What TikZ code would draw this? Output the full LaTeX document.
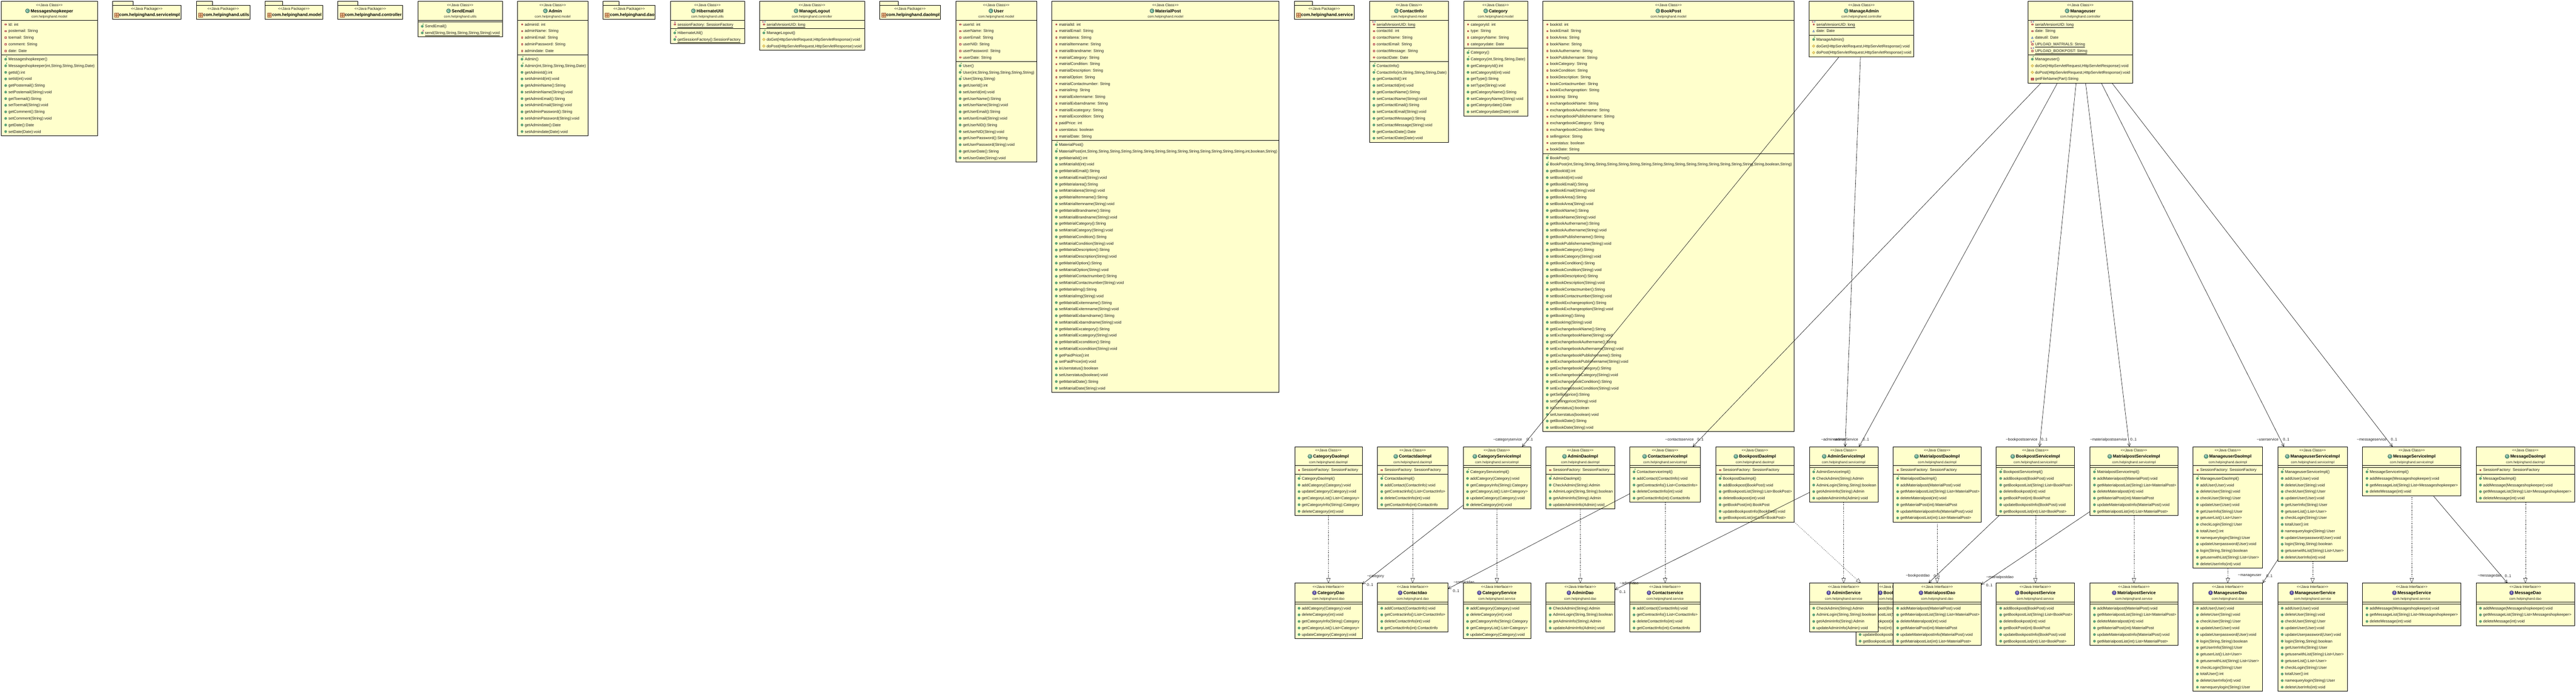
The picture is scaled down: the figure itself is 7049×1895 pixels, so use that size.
\documentclass[tikz,border=0pt]{standalone}
\usepackage{fontspec}
\usetikzlibrary{arrows.meta}
\newfontfamily\umlf{Liberation Sans}
\definecolor{boxfill}{HTML}{FFFFCC}
\definecolor{iconC}{HTML}{4F9C7C}
\definecolor{iconI}{HTML}{5B4FA6}
\definecolor{mgreen}{HTML}{5FA97F}
\definecolor{mgreend}{HTML}{3B8058}
\definecolor{privR}{HTML}{B03A3A}
\definecolor{privF}{HTML}{F4E8D8}
\definecolor{pkgB}{HTML}{3A5FA8}
\definecolor{protF}{HTML}{F0D878}
\definecolor{protD}{HTML}{B89A30}
\definecolor{statS}{HTML}{A0207F}
\definecolor{finF}{HTML}{2A5FC0}
\definecolor{ctorC}{HTML}{1E8A3C}
\definecolor{pkgI}{HTML}{E8B888}
\definecolor{pkgD}{HTML}{A0603A}
\tikzset{
  klbox/.style={draw=black,fill=boxfill,line width=1pt,rectangle,inner sep=0pt,outer sep=0pt},
  divider/.style={draw=black,line width=1pt},
  rowtext/.style={inner sep=0pt,outer sep=0pt,anchor=base west,font=\umlf\fontsize{10.7}{12}\selectfont,text=black!88},
  stereotext/.style={inner sep=0pt,outer sep=0pt,anchor=base,font=\umlf\fontsize{10}{12}\selectfont,text=black!88},
  titletext/.style={inner sep=0pt,outer sep=0pt,anchor=base,font=\umlf\bfseries\fontsize{11.8}{13}\selectfont,text=black},
  pkgtext/.style={inner sep=0pt,outer sep=0pt,anchor=base,font=\umlf\fontsize{9.2}{11}\selectfont,text=black!85},
  pkgname/.style={inner sep=0pt,outer sep=0pt,anchor=base west,font=\umlf\bfseries\fontsize{11.8}{13}\selectfont,text=black},
  klicon/.style={circle,inner sep=0pt,outer sep=0pt,minimum size=12pt,draw=black!55,line width=.5pt,text=white,font=\umlf\bfseries\fontsize{8.5}{9}\selectfont},
  iconletter/.style={inner sep=0pt,outer sep=0pt,font=\umlf\bfseries\fontsize{6.6}{7}\selectfont},
  lbltext/.style={inner sep=0pt,outer sep=0pt,font=\umlf\fontsize{10.4}{12}\selectfont,text=black!88},
  assoc/.style={draw=black,line width=.8pt,-{Straight Barb[length=8pt,width=8pt]}},
  realize/.style={draw=black,line width=.6pt,dash pattern=on 2pt off 3pt,-{Triangle[open,length=13.5pt,width=10.5pt,fill=white]}},
}
\newcounter{rowid}
\newcommand\stereoC{<<Java Class>>}
\newcommand\stereoI{<<Java Interface>>}
% id x1 x2 ytop nattr nmeth kind title package
\newcommand\kl[9]{%
  \pgfmathsetmacro\kW{#3-#2}%
  \pgfmathsetmacro\kH{61.7+18*(#5+#6)}%
  \pgfmathsetmacro\kCx{(#2+#3)/2}%
  \pgfmathsetmacro\kA{#4+51.7}%
  \pgfmathsetmacro\kB{#4+51.7+18*#5+5}%
  \node[klbox,anchor=north west,minimum width=\kW pt,minimum height=\kH pt] (#1) at (#2,#4) {};%
  \draw[divider] (#2,\kA) -- (#3,\kA);%
  \draw[divider] (#2,\kB) -- (#3,\kB);%
  \node[stereotext] (#1s) at (\kCx,{#4+13.8}) {\csname stereo#7\endcsname};%
  \node[titletext] (#1t) at ({\kCx+7},{#4+30.7}) {#8};%
  \node[klicon,fill=icon#7] (#1i) at ([xshift=-8.7pt,yshift=4.3pt]#1t.base west) {#7};%
  \node[pkgtext] (#1p) at (\kCx,{#4+45.6}) {#9};%
  \def\rowX{#2}%
  \pgfmathsetmacro\rowY{\kA+12}%
  \pgfmathsetmacro\methY{\kB+12}%
}
\newcommand\Meth{\let\rowY\methY}
\newcommand\rowtxt[1]{%
  \stepcounter{rowid}%
  \node[rowtext] (r\arabic{rowid}) at ({\rowX+19.5},{\rowY+3.8}) {#1};%
}
\newcommand\rownext{\pgfmathsetmacro\rowY{\rowY+18}}
\newcommand\rowul{\draw[line width=.8pt,black] ([yshift=-4.2pt]r\arabic{rowid}.base west) -- ([yshift=-4.2pt]r\arabic{rowid}.base east);}
\newcommand\icPri{\draw[draw=privR,fill=privF,line width=.9pt] ({\rowX+10.2},{\rowY-1.8}) rectangle ({\rowX+13.6},{\rowY+1.8});}
\newcommand\icPk{\draw[draw=pkgB,fill=white,line width=.9pt] ({\rowX+9.6},{\rowY+2.4}) -- ({\rowX+14.2},{\rowY+2.4}) -- ({\rowX+11.9},{\rowY-2.4}) -- cycle;}
\newcommand\icPub{\draw[draw=mgreend,fill=mgreen,line width=.4pt] ({\rowX+12},\rowY) circle (3.3pt);}
\newcommand\icProt{\draw[draw=protD,fill=protF,line width=.5pt] ({\rowX+8},\rowY) -- ({\rowX+12},{\rowY-4}) -- ({\rowX+16},\rowY) -- ({\rowX+12},{\rowY+4}) -- cycle;}
\newcommand\icRed{\draw[draw=privR,fill=privR!75,line width=.5pt] ({\rowX+9},{\rowY-3}) rectangle ({\rowX+15},{\rowY+3});}
\newcommand\icLetter[4]{\node[iconletter,text=#4] (i\arabic{rowid}#3) at ({\rowX+#1},{\rowY+#2}) {#3};}
% attribute rows
\newcommand\aPr[1]{\icPri\rowtxt{#1}\rownext}
\newcommand\aPk[1]{\icPk\rowtxt{#1}\rownext}
\newcommand\aS[1]{\icPri\rowtxt{#1}\icLetter{12.5}{-5.5}{S}{statS}\rowul\rownext}
\newcommand\aSF[1]{\icPri\rowtxt{#1}\icLetter{9.5}{-6}{S}{statS}\icLetter{15.5}{-7}{F}{finF}\rowul\rownext}
% method rows
\newcommand\mPu[1]{\icPub\rowtxt{#1}\rownext}
\newcommand\mCt[1]{\icPub\rowtxt{#1}\icLetter{15}{-6}{c}{ctorC}\rownext}
\newcommand\mSt[1]{\icPub\rowtxt{#1}\icLetter{15}{-6}{S}{statS}\rowul\rownext}
\newcommand\mPt[1]{\icProt\rowtxt{#1}\rownext}
\newcommand\mPr[1]{\icRed\rowtxt{#1}\rownext}
\newcommand\GS[2]{\mPu{get#1():#2}\mPu{set#1(#2):void}}
\newcommand\SF{\aPr{SessionFactory: SessionFactory}}
% package: id x1 xtab x2 name
\newcommand\umlpkg[5]{%
  \pgfmathsetmacro\kW{#4-#2}%
  \pgfmathsetmacro\kCx{(#2+#4)/2}%
  \draw[klbox] (#2,3.3) rectangle (#3,14.3);%
  \node[klbox,anchor=north west,minimum width=\kW pt,minimum height=38pt] (#1) at (#2,14.3) {};%
  \node[stereotext] (#1s) at (\kCx,27.7) {<<Java Package>>};%
  \node[pkgname] (#1t) at ({#2+19},45) {#5};%
  \draw[draw=pkgD,fill=pkgI,line width=.6pt] ({#2+6},35.2) rectangle ({#2+17},46.2);%
  \draw[draw=pkgD,line width=.6pt] ({#2+6},40.7) -- ({#2+17},40.7) ({#2+11.5},35.2) -- ({#2+11.5},46.2);%
}
\newcommand\umllbl[4]{\node[lbltext] (#1) at (#2,#3) {#4};}
\newcommand\dohttp{\mPt{doGet(HttpServletRequest,HttpServletResponse):void}\mPt{doPost(HttpServletRequest,HttpServletResponse):void}}
\newcommand\catA{\mPu{addCategory(Category):void}}
\newcommand\catU{\mPu{updateCategory(Category):void}}
\newcommand\catL{\mPu{getCategoryList():List<Category>}}
\newcommand\catI{\mPu{getCategoryInfo(String):Category}}
\newcommand\catD{\mPu{deleteCategory(int):void}}
\newcommand\conM{\mPu{addContact(ContactInfo):void}\mPu{getContractinfo():List<ContactInfo>}\mPu{deleteContactInfo(int):void}\mPu{getContactInfo(int):ContactInfo}}
\newcommand\admM{\mPu{CheckAdmin(String):Admin}\mPu{AdminLogin(String,String):boolean}\mPu{getAdminInfo(String):Admin}\mPu{updateAdminInfo(Admin):void}}
\newcommand\bokM{\mPu{addBookpost(BookPost):void}\mPu{getBookpostList(String):List<BookPost>}\mPu{deleteBookpost(int):void}\mPu{getBookPost(int):BookPost}\mPu{updateBookpostInfo(BookPost):void}\mPu{getBookpostList(int):List<BookPost>}}
\newcommand\matM{\mPu{addMaterialpost(MaterialPost):void}\mPu{getMaterialpostList(String):List<MaterialPost>}\mPu{deleteMateralpost(int):void}\mPu{getMaterialPost(int):MaterialPost}\mPu{updateMaterialpostInfo(MaterialPost):void}\mPu{getMatrialpostList(int):List<MaterialPost>}}
\newcommand\msgM{\mPu{addMessage(Messageshopkeeper):void}\mPu{getMessageList(String):List<Messageshopkeeper>}\mPu{deleteMessage(int):void}}
\newcommand\usrImpl{\mPu{addUser(User):void}\mPu{deleteUser(String):void}\mPu{checkUser(String):User}\mPu{updateUser(User):void}\mPu{getUserInfo(String):User}\mPu{getuserList():List<User>}\mPu{checkLogin(String):User}\mPu{totalUser():int}\mPu{namequerylogin(String):User}\mPu{updateUserpassword(User):void}\mPu{login(String,String):boolean}\mPu{getuserwithList(String):List<User>}\mPu{deleteUserInfo(int):void}}
\newcommand\usrHead{\mPu{addUser(User):void}\mPu{deleteUser(String):void}\mPu{checkUser(String):User}\mPu{updateUser(User):void}\mPu{updateUserpassword(User):void}\mPu{login(String,String):boolean}\mPu{getUserInfo(String):User}}
\newcommand\hpm{com.helpinghand.model}
\newcommand\hpc{com.helpinghand.controller}
\newcommand\hpd{com.helpinghand.dao}
\newcommand\hpdi{com.helpinghand.daoImpl}
\newcommand\hps{com.helpinghand.service}
\newcommand\hpsi{com.helpinghand.serviceImpl}
\begin{document}
\begin{tikzpicture}[x=1pt,y=-1pt]
\useasboundingbox (0,0) rectangle (7049,1895);
\fill[white] (0,0) rectangle (7049,1895);
% ===== top row =====
\kl{messageshopkeeper}{3.5}{266.6}{3.3}{5}{12}{C}{Messageshopkeeper}{\hpm}
\aPr{Id: int}\aPr{postemail: String}\aPr{toemail: String}\aPr{comment: String}\aPr{date: Date}
\Meth\mCt{Messageshopkeeper()}\mCt{Messageshopkeeper(int,String,String,String,Date)}
\mPu{getId():int}\mPu{setId(int):void}\GS{Postemail}{String}\GS{Toemail}{String}\GS{Comment}{String}\GS{Date}{Date}

\umlpkg{pserviceimpl}{307.3}{364}{496}{com.helpinghand.serviceImpl}
\umlpkg{putils}{537.4}{581.5}{684}{com.helpinghand.utils}
\umlpkg{pmodel}{725.4}{773}{883.2}{com.helpinghand.model}
\umlpkg{pcontroller}{924.6}{978.6}{1102}{com.helpinghand.controller}

\kl{sendemail}{1143.5}{1375}{3.3}{0}{2}{C}{SendEmail}{com.helpinghand.utils}
\Meth\mCt{SendEmail()}\mSt{send(String,String,String,String,String):void}

\kl{admin}{1416.4}{1608.6}{3.3}{5}{12}{C}{Admin}{\hpm}
\aPr{adminId: int}\aPr{adminName: String}\aPr{adminEmail: String}\aPr{adminPassword: String}\aPr{admindate: Date}
\Meth\mCt{Admin()}\mCt{Admin(int,String,String,String,Date)}
\GS{AdminId}{int}\GS{AdminName}{String}\GS{AdminEmail}{String}\GS{AdminPassword}{String}\GS{Admindate}{Date}

\umlpkg{pdao}{1650}{1693.5}{1793}{com.helpinghand.dao}

\kl{hibernateutil}{1834.5}{2037.2}{3.3}{1}{2}{C}{HibernateUtil}{com.helpinghand.utils}
\aS{sessionFactory: SessionFactory}
\Meth\mCt{HibernateUtil()}\mSt{getSessionFactory():SessionFactory}

\kl{managelogout}{2078.3}{2365.7}{3.3}{1}{3}{C}{ManageLogout}{\hpc}
\aSF{serialVersionUID: long}
\Meth\mCt{ManageLogout()}\dohttp

\umlpkg{pdaoimpl}{2406.3}{2457.6}{2574}{com.helpinghand.daoImpl}

\kl{user}{2615.4}{2837}{3.3}{6}{15}{C}{User}{\hpm}
\aPr{userId: int}\aPr{userName: String}\aPr{userEmail: String}\aPr{userNID: String}\aPr{userPassword: String}\aPr{userDate: String}
\Meth\mCt{User()}\mCt{User(int,String,String,String,String,String)}\mCt{User(String,String)}
\GS{UserId}{int}\GS{UserName}{String}\GS{UserEmail}{String}\GS{UserNID}{String}\GS{UserPassword}{String}\GS{UserDate}{String}

\kl{materialpost}{2878.4}{3500}{3.3}{18}{38}{C}{MaterialPost}{\hpm}
\aPr{matrialId: int}\aPr{matrialEmail: String}\aPr{matrialarea: String}\aPr{matrialItemname: String}\aPr{matrialBrandname: String}\aPr{matrialCategory: String}\aPr{matrialCondition: String}\aPr{matrialDescription: String}\aPr{matrialOption: String}\aPr{matrialContactnumber: String}\aPr{matrialImg: String}\aPr{matrialExitemname: String}\aPr{matrialExbarndname: String}\aPr{matrialExcategory: String}\aPr{matrialExcondition: String}\aPr{paidPrice: int}\aPr{userstatus: boolean}\aPr{matrialDate: String}
\Meth\mCt{MaterialPost()}\mCt{MaterialPost(int,String,String,String,String,String,String,String,String,String,String,String,String,String,String,int,boolean,String)}
\GS{MatrialId}{int}\GS{MatrialEmail}{String}\GS{Matrialarea}{String}\GS{MatrialItemname}{String}\GS{MatrialBrandname}{String}\GS{MatrialCategory}{String}\GS{MatrialCondition}{String}\GS{MatrialDescription}{String}\GS{MatrialOption}{String}\GS{MatrialContactnumber}{String}\GS{MatrialImg}{String}\GS{MatrialExitemname}{String}\GS{MatrialExbarndname}{String}\GS{MatrialExcategory}{String}\GS{MatrialExcondition}{String}\GS{PaidPrice}{int}\mPu{isUserstatus():boolean}\mPu{setUserstatus(boolean):void}\GS{MatrialDate}{String}

\umlpkg{pservice}{3541.4}{3591.2}{3706}{com.helpinghand.service}

\kl{contactinfo}{3747.6}{3963.7}{3.3}{6}{12}{C}{ContactInfo}{\hpm}
\aSF{serialVersionUID: long}\aPr{contactId: int}\aPr{contactName: String}\aPr{contactEmail: String}\aPr{contactMessage: String}\aPr{contactDate: Date}
\Meth\mCt{ContactInfo()}\mCt{ContactInfo(int,String,String,String,Date)}
\GS{ContactId}{int}\GS{ContactName}{String}\GS{ContactEmail}{String}\GS{ContactMessage}{String}\GS{ContactDate}{Date}

\kl{category}{4005}{4180.5}{3.3}{4}{10}{C}{Category}{\hpm}
\aPr{categoryId: int}\aPr{type: String}\aPr{categoryName: String}\aPr{categorydate: Date}
\Meth\mCt{Category()}\mCt{Category(int,String,String,Date)}
\GS{CategoryId}{int}\GS{Type}{String}\GS{CategoryName}{String}\GS{Categorydate}{Date}

\kl{bookpost}{4221.9}{4909.4}{3.3}{20}{42}{C}{BookPost}{\hpm}
\aPr{bookId: int}\aPr{bookEmail: String}\aPr{bookArea: String}\aPr{bookName: String}\aPr{bookAuthername: String}\aPr{bookPublishername: String}\aPr{bookCategory: String}\aPr{bookCondition: String}\aPr{bookDescription: String}\aPr{bookContactnumber: String}\aPr{bookExchangeoption: String}\aPr{bookImg: String}\aPr{exchangebookName: String}\aPr{exchangebookAuthername: String}\aPr{exchangebookPublishername: String}\aPr{exchangebookCategory: String}\aPr{exchangebookCondition: String}\aPr{sellingprice: String}\aPr{userstatus: boolean}\aPr{bookDate: String}
\Meth\mCt{BookPost()}\mCt{BookPost(int,String,String,String,String,String,String,String,String,String,String,String,String,String,String,String,String,String,boolean,String)}
\GS{BookId}{int}\GS{BookEmail}{String}\GS{BookArea}{String}\GS{BookName}{String}\GS{BookAuthername}{String}\GS{BookPublishername}{String}\GS{BookCategory}{String}\GS{BookCondition}{String}\GS{BookDescription}{String}\GS{BookContactnumber}{String}\GS{BookExchangeoption}{String}\GS{BookImg}{String}\GS{ExchangebookName}{String}\GS{ExchangebookAuthername}{String}\GS{ExchangebookPublishername}{String}\GS{ExchangebookCategory}{String}\GS{ExchangebookCondition}{String}\GS{Sellingprice}{String}\mPu{isUserstatus():boolean}\mPu{setUserstatus(boolean):void}\GS{BookDate}{String}

\kl{manageadmin}{4950.8}{5237}{3.3}{2}{3}{C}{ManageAdmin}{\hpc}
\aSF{serialVersionUID: long}\aPk{date: Date}
\Meth\mCt{ManageAdmin()}\dohttp

\kl{manageuser}{5549.3}{5836}{3.3}{5}{4}{C}{Manageuser}{\hpc}
\aSF{serialVersionUID: long}\aPr{date: String}\aPk{dateutil: Date}\aSF{UPLOAD\_MATRIALS: String}\aSF{UPLOAD\_BOOKPOST: String}
\Meth\mCt{Manageuser()}\dohttp\mPr{getFileName(Part):String}

% ===== middle row (implementations) =====
\kl{categorydaoimpl}{3542.7}{3727.6}{1222.4}{1}{6}{C}{CategoryDaoImpl}{\hpdi}
\SF\Meth\mCt{CategoryDaoImpl()}\catA\catU\catL\catI\catD

\kl{contactdaoimpl}{3769}{3962.2}{1222.4}{1}{5}{C}{ContactdaoImpl}{\hpdi}
\SF\Meth\mCt{ContactdaoImpl()}\conM

\kl{categoryserviceimpl}{4003.7}{4188.6}{1222.4}{0}{6}{C}{CategoryServiceImpl}{\hpsi}
\Meth\mCt{CategoryServiceImpl()}\catA\catI\catL\catU\catD

\kl{admindaoimpl}{4230}{4418.8}{1222.4}{1}{5}{C}{AdminDaoImpl}{\hpdi}
\SF\Meth\mCt{AdminDaoImpl()}\admM

\kl{contactserviceimpl}{4459.4}{4653.4}{1222.4}{0}{5}{C}{ContactserviceImpl}{\hpsi}
\Meth\mCt{ContactserviceImpl()}\conM

\kl{bookpostdaoimpl}{4694.9}{4909.6}{1222.4}{1}{7}{C}{BookpostDaoImpl}{\hpdi}
\SF\Meth\mCt{BookpostDaoImpl()}\bokM

\kl{adminserviceimpl}{4951}{5139}{1222.4}{0}{5}{C}{AdminServiceImpl}{\hpsi}
\Meth\mCt{AdminServiceImpl()}\admM

\kl{matrialpostdaoimpl}{5180.7}{5421}{1222.4}{1}{7}{C}{MatrialpostDaoImpl}{\hpdi}
\SF\Meth\mCt{MatrialpostDaoImpl()}\matM

\kl{bookpostserviceimpl}{5462.6}{5676.7}{1222.4}{0}{7}{C}{BookpostServiceImpl}{\hpsi}
\Meth\mCt{BookpostServiceImpl()}\bokM

\kl{matrialpostserviceimpl}{5719.2}{5959.5}{1222.4}{0}{7}{C}{MatrialpostServiceImpl}{\hpsi}
\Meth\mCt{MatrialpostServiceImpl()}\matM

\kl{manageuserdaoimpl}{6001}{6191.4}{1222.4}{1}{14}{C}{ManageuserDaoImpl}{\hpdi}
\SF\Meth\mCt{ManageuserDaoImpl()}\usrImpl

\kl{manageuserserviceimpl}{6233}{6423.4}{1222.4}{0}{14}{C}{ManageuserServiceImpl}{\hpsi}
\Meth\mCt{ManageuserServiceImpl()}\usrImpl

\kl{messageserviceimpl}{6465}{6734}{1222.4}{0}{4}{C}{MessageServiceImpl}{\hpsi}
\Meth\mCt{MessageServiceImpl()}\msgM

\kl{messagedaoimpl}{6775.5}{7045.3}{1222.4}{1}{4}{C}{MessageDaoImpl}{\hpdi}
\SF\Meth\mCt{MessageDaoImpl()}\msgM

% ===== bottom row (interfaces) =====
\kl{categorydao}{3542.7}{3727.6}{1595.6}{0}{5}{I}{CategoryDao}{\hpd}
\Meth\catA\catD\catI\catL\catU

\kl{contactdao}{3769}{3962.2}{1595.6}{0}{4}{I}{Contactdao}{\hpd}
\Meth\conM

\kl{categoryservice}{4003.7}{4188.6}{1595.6}{0}{5}{I}{CategoryService}{\hps}
\Meth\catA\catD\catI\catL\catU

\kl{admindao}{4230}{4418.8}{1595.6}{0}{4}{I}{AdminDao}{\hpd}
\Meth\admM

\kl{contactservice}{4459.4}{4653.4}{1595.6}{0}{4}{I}{Contactservice}{\hps}
\Meth\conM

\kl{bookpostdao}{5078}{5292.7}{1595.6}{0}{6}{I}{BookpostDao}{\hpd}
\Meth\bokM

\kl{adminservice}{4951}{5139}{1595.6}{0}{4}{I}{AdminService}{\hps}
\Meth\admM

\kl{matrialpostdao}{5180.7}{5421}{1595.6}{0}{6}{I}{MatrialpostDao}{\hpd}
\Meth\matM

\kl{bookpostservice}{5462.6}{5676.7}{1595.6}{0}{6}{I}{BookpostService}{\hps}
\Meth\bokM

\kl{matrialpostservice}{5719.2}{5959.5}{1595.6}{0}{6}{I}{MatrialpostService}{\hps}
\Meth\matM

\kl{manageuserdao}{6001}{6191.4}{1595.6}{0}{13}{I}{ManageuserDao}{\hpd}
\Meth\usrHead\mPu{getuserList():List<User>}\mPu{getuserwithList(String):List<User>}\mPu{checkLogin(String):User}\mPu{totalUser():int}\mPu{deleteUserInfo(int):void}\mPu{namequerylogin(String):User}

\kl{manageuserservice}{6233}{6423.4}{1595.6}{0}{13}{I}{ManageuserService}{\hps}
\Meth\usrHead\mPu{getuserwithList(String):List<User>}\mPu{getuserList():List<User>}\mPu{checkLogin(String):User}\mPu{totalUser():int}\mPu{namequerylogin(String):User}\mPu{deleteUserInfo(int):void}

\kl{messageservice}{6465}{6734}{1595.6}{0}{3}{I}{MessageService}{\hps}
\Meth\msgM

\kl{messagedao}{6775.5}{7045.3}{1595.6}{0}{3}{I}{MessageDao}{\hpd}
\Meth\msgM

% ===== realizations =====
\draw[realize] (categorydaoimpl.south) -- (categorydao.north);
\draw[realize] (contactdaoimpl.south) -- (contactdao.north);
\draw[realize] (categoryserviceimpl.south) -- (categoryservice.north);
\draw[realize] (admindaoimpl.south) -- (admindao.north);
\draw[realize] (contactserviceimpl.south) -- (contactservice.north);
\draw[realize] (adminserviceimpl.south) -- (adminservice.north);
\draw[realize] (bookpostdaoimpl.south east) -- ([xshift=14pt]bookpostdao.north west);
\draw[realize] (matrialpostdaoimpl.south) -- (matrialpostdao.north);
\draw[realize] (bookpostserviceimpl.south) -- (bookpostservice.north);
\draw[realize] (matrialpostserviceimpl.south) -- (matrialpostservice.north);
\draw[realize] (manageuserdaoimpl.south) -- (manageuserdao.north);
\draw[realize] (manageuserserviceimpl.south) -- (manageuserservice.north);
\draw[realize] (messageserviceimpl.south) -- (messageservice.north);
\draw[realize] (messagedaoimpl.south) -- (messagedao.north);

% ===== associations: controllers to services =====
\draw[assoc] ([xshift=82pt]manageadmin.south west) -- ([xshift=161.3pt]categoryserviceimpl.north west);
\draw[assoc] ([xshift=140.2pt]manageadmin.south west) -- ([xshift=98pt]adminserviceimpl.north west);
\draw[assoc] ([xshift=35.7pt]manageuser.south west) -- ([xshift=172.6pt]contactserviceimpl.north west);
\draw[assoc] ([xshift=80.7pt]manageuser.south west) -- ([xshift=136pt]adminserviceimpl.north west);
\draw[assoc] ([xshift=131.7pt]manageuser.south west) -- ([xshift=118.4pt]bookpostserviceimpl.north west);
\draw[assoc] ([xshift=157.7pt]manageuser.south west) -- ([xshift=107.8pt]matrialpostserviceimpl.north west);
\draw[assoc] ([xshift=200.7pt]manageuser.south west) -- ([xshift=17pt]manageuserserviceimpl.north west);
\draw[assoc] ([xshift=229.7pt]manageuser.south west) -- ([xshift=82pt]messageserviceimpl.north west);
% ===== associations: services to daos =====
\draw[assoc] ([yshift=-160pt]categoryserviceimpl.north west) -- ([yshift=-3pt]categorydao.north east);
\draw[assoc] ([yshift=-125.3pt]adminserviceimpl.north west) -- ([yshift=-18pt]admindao.north east);
\draw[assoc] ([yshift=-128.6pt]contactserviceimpl.north west) -- ([yshift=-15.4pt]contactdao.north east);
\draw[assoc] ([xshift=8.4pt]bookpostserviceimpl.south west) -- ([xshift=199pt]bookpostdao.north west);
\draw[assoc] ([yshift=-177.2pt]matrialpostserviceimpl.north west) -- ([yshift=-4.2pt]matrialpostdao.north east);
\draw[assoc] ([yshift=-308.6pt]manageuserserviceimpl.north west) -- (manageuserdao.north east);
\draw[assoc] ([xshift=193pt]messageserviceimpl.south west) -- ([xshift=86pt]messagedao.north west);

% ===== role labels =====
\umllbl{l1}{4125.5}{1202.7}{\textasciitilde categoryservice}
\umllbl{l1m}{4186}{1203}{0..1}
\umllbl{l2}{4595.6}{1202.7}{\textasciitilde contactsservice}
\umllbl{l2m}{4653}{1203}{0..1}
\umllbl{l3}{5017}{1202.7}{\textasciitilde adminservice}
\umllbl{l4}{5050}{1202.7}{\textasciitilde adminService}
\umllbl{l4m}{5106}{1203}{0..1}
\umllbl{l5}{5532}{1202.7}{\textasciitilde bookpostsservice}
\umllbl{l5m}{5594}{1203}{0..1}
\umllbl{l6}{5769.6}{1202.7}{\textasciitilde materialpostsservice}
\umllbl{l6m}{5838}{1203}{0..1}
\umllbl{l7}{6205}{1202.7}{\textasciitilde userservice}
\umllbl{l7m}{6256}{1203}{0..1}
\umllbl{l8}{6490}{1202.7}{\textasciitilde messageservice}
\umllbl{l8m}{6551}{1203}{0..1}
\umllbl{l9}{3764}{1577.4}{\textasciitilde category}
\umllbl{l9m}{3749}{1600}{0..1}
\umllbl{l10}{4006}{1593.5}{\textasciitilde contactdao}
\umllbl{l10m}{3984.6}{1616.4}{0..1}
\umllbl{l11}{4457.8}{1596}{\textasciitilde admindao}
\umllbl{l11m}{4440}{1619.5}{0..1}
\umllbl{l12}{5248}{1575}{\textasciitilde bookpostdao}
\umllbl{l12m}{5300}{1576}{0..1}
\umllbl{l13}{5472.5}{1579.5}{\textasciitilde matrialpostdao}
\umllbl{l13m}{5443.5}{1602}{0..1}
\umllbl{l14}{6156}{1575}{\textasciitilde manageuser}
\umllbl{l14m}{6210}{1576}{0..1}
\umllbl{l15}{6812.5}{1575}{\textasciitilde messagedao}
\umllbl{l15m}{6863}{1576}{0..1}
\end{tikzpicture}
\end{document}
